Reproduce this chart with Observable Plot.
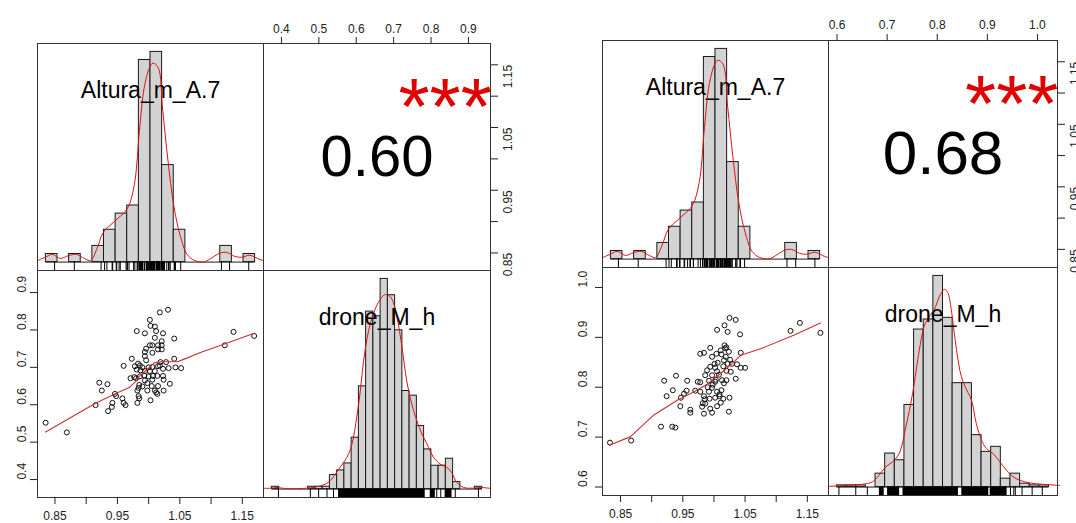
<!DOCTYPE html>
<html><head><meta charset="utf-8">
<script src="https://cdn.jsdelivr.net/npm/d3@7"></script>
<script src="https://cdn.jsdelivr.net/npm/@observablehq/plot@0.6"></script>
<style>
body{margin:0;background:#fff;}
#root{position:relative;width:1076px;height:523px;overflow:hidden;background:#fff;}
#root svg{position:absolute;overflow:visible;}
</style></head><body><div id="root"></div>
<script>
// ---------- labels ----------
const varNames = ["Altura_m_A.7", "drone_M_h"];
const corrTexts = ["0.60", "0.68"];
const signifText = "***";

// ---------- axis ticks ----------
const alturaTicks = [0.85, 0.90, 0.95, 1.00, 1.05, 1.10, 1.15];
const alturaLabelVals = [0.85, 0.95, 1.05, 1.15];
const alturaLabels = ["0.85", "0.95", "1.05", "1.15"];
const droneATicks = [0.4, 0.5, 0.6, 0.7, 0.8, 0.9];
const droneALabels = ["0.4", "0.5", "0.6", "0.7", "0.8", "0.9"];
const droneBTicks = [0.6, 0.7, 0.8, 0.9, 1.0];
const droneBLabels = ["0.6", "0.7", "0.8", "0.9", "1.0"];

// ---------- Altura histogram (both figures) ----------
const alturaBreakStart = 0.82, alturaBinWidth = 0.02;
const alturaCounts = [1,0,1,0,2,4,6,7,25,26,12,4,0,0,0,2,0,1];
const alturaDensX = [0.806,0.819,0.831,0.845,0.859,0.873,0.886,0.897,0.908,0.919,0.939,0.960,0.972,0.981,0.989,0.998,1.004,1.013,1.021,1.030,1.040,1.051,1.063,1.076,1.093,1.107,1.119,1.131,1.145,1.157,1.171,1.184,1.193];
const alturaDensY = [0.2,0.6,0.95,0.45,0.8,0.95,0.45,0.2,1.7,3.7,5.1,6.6,9.5,16.3,21.5,24.0,24.6,24.1,18.8,12.6,7.0,3.3,0.95,0.2,0.05,0.6,1.1,1.2,0.7,0.6,0.85,0.45,0.2];

// ---------- drone histogram, left figure ----------
const droneABreakStart = 0.38, droneABinWidth = 0.02;
const droneACounts = [1,0,0,0,0,1,1,1,6,8,11,22,44,76,74,90,83,68,42,40,27,17,10,10,13,3,0,0,1];
const droneADensX = [0.357,0.380,0.394,0.412,0.449,0.476,0.504,0.527,0.541,0.555,0.568,0.587,0.601,0.614,0.624,0.633,0.647,0.660,0.674,0.688,0.699,0.711,0.725,0.739,0.752,0.766,0.780,0.794,0.808,0.826,0.844,0.863,0.876,0.890,0.909,0.936,0.955,0.983];
const droneADensY = [0.3,0.4,0.7,0.3,0.2,0.4,1.0,2.1,3.6,6.4,9.3,13.6,19.3,30.7,42.1,55,67.9,75,80,82.9,83.3,81.4,73.6,60.7,46.4,36.4,29.3,23.6,19.3,13.6,10.7,9.3,7.1,2.9,0.7,0.4,0.7,0.3];
const droneARugTicks = [0.398,0.486,0.509,0.532,0.550,0.835,0.846,0.886,0.950];
const droneARugBlocks = [[0.564,0.803],[0.817,0.831],[0.858,0.877]];

// ---------- drone histogram, right figure ----------
const droneBBreakStart = 0.60, droneBBinWidth = 0.02;
const droneBCounts = [1,1,1,0,8,20,16,49,94,100,126,101,62,62,31,21,24,5,8,2,1,1];
const droneBDensX = [0.582,0.624,0.652,0.673,0.687,0.701,0.715,0.729,0.743,0.757,0.771,0.781,0.792,0.802,0.813,0.823,0.830,0.837,0.848,0.858,0.869,0.879,0.889,0.900,0.910,0.924,0.938,0.952,0.966,0.980,1.001,1.029,1.062];
const droneBDensY = [0.4,1,1.6,3,7,12,15,20,36,56,82,96,102,106,114,118,116,106,82,66,58,52,38,28,23,20,15,10,6,4,2.4,1.6,1];
const droneBRugTicks = [0.604,0.639,0.663,0.960,0.967,0.970,0.984,1.005,1.026];
const droneBRugBlocks = [[0.688,0.698],[0.705,0.730],[0.737,0.852],[0.859,0.915],[0.918,0.953]];

// ---------- scatter, left figure ----------
const scatterAX = [1.031,1.018,1.002,1.003,1.010,1.012,0.981,0.994,1.023,1.010,1.041,1.021,1.002,1.006,1.015,1.021,0.996,1.015,1.021,0.994,1.006,0.994,0.996,0.973,0.983,0.986,0.978,0.960,1.019,1.028,1.041,1.043,1.052,1.015,1.006,1.023,1.032,0.981,0.987,0.994,1.002,0.986,0.993,1.000,1.007,1.014,1.023,0.971,0.980,0.994,0.998,1.006,1.024,0.934,0.921,0.925,0.985,0.990,1.005,1.015,1.034,0.982,0.998,1.010,1.024,0.946,0.948,0.984,0.985,1.014,0.958,0.963,0.960,0.942,0.941,0.935,0.982,1.003,0.915,0.835,0.869,1.122,1.136,1.169,1.000,0.990,1.010,0.984,1.012,0.977,1.018];
const scatterAY = [0.854,0.847,0.827,0.811,0.809,0.797,0.797,0.791,0.791,0.779,0.777,0.770,0.759,0.759,0.759,0.759,0.750,0.748,0.748,0.741,0.739,0.730,0.719,0.723,0.710,0.705,0.703,0.704,0.714,0.714,0.723,0.700,0.698,0.703,0.701,0.696,0.698,0.694,0.692,0.690,0.690,0.676,0.678,0.676,0.677,0.677,0.677,0.671,0.671,0.665,0.658,0.667,0.667,0.655,0.659,0.638,0.653,0.649,0.650,0.650,0.656,0.638,0.638,0.638,0.638,0.629,0.623,0.623,0.617,0.629,0.617,0.599,0.605,0.605,0.594,0.583,0.605,0.612,0.599,0.552,0.526,0.759,0.795,0.784,0.700,0.700,0.690,0.645,0.633,0.674,0.705];
const loessAX = [0.835,0.915,0.950,0.969,0.979,0.985,0.998,1.009,1.020,1.046,1.054,1.083,1.136,1.169];
const loessAY = [0.527,0.604,0.632,0.646,0.662,0.676,0.695,0.712,0.715,0.715,0.720,0.740,0.771,0.791];

// ---------- scatter, right figure ----------
const scatterBX = [1.025,1.035,1.017,1.005,1.022,1.042,1.017,0.994,0.978,0.984,1.011,1.024,1.004,1.012,0.997,1.019,1.043,1.016,1.001,1.006,0.994,1.002,1.022,1.029,1.037,1.043,0.989,1.005,1.020,1.027,0.986,0.997,1.035,1.013,1.020,0.957,0.974,0.992,1.002,0.920,0.939,0.934,0.956,0.970,0.978,0.992,1.005,1.012,0.997,0.924,0.947,0.984,0.993,1.002,1.009,1.015,1.025,0.986,1.011,0.946,0.962,0.981,0.984,0.994,1.005,0.997,1.024,0.962,0.915,0.933,0.938,0.833,0.867,1.123,1.138,1.171,1.050,0.998,1.003,0.990,1.008,0.985,1.015,1.020,1.018,1.009,0.982,1.016,0.978,1.026,0.952];
const scatterBY = [0.939,0.935,0.924,0.915,0.911,0.906,0.884,0.879,0.867,0.869,0.874,0.871,0.867,0.866,0.861,0.861,0.869,0.854,0.847,0.849,0.841,0.839,0.847,0.847,0.846,0.839,0.834,0.832,0.833,0.831,0.824,0.824,0.817,0.814,0.814,0.813,0.811,0.813,0.811,0.813,0.823,0.794,0.793,0.793,0.791,0.791,0.791,0.794,0.799,0.782,0.779,0.782,0.777,0.779,0.782,0.777,0.779,0.767,0.769,0.762,0.755,0.761,0.747,0.757,0.762,0.749,0.751,0.749,0.721,0.721,0.719,0.689,0.693,0.913,0.929,0.909,0.839,0.805,0.815,0.800,0.825,0.776,0.842,0.880,0.878,0.786,0.768,0.808,0.810,0.855,0.787];
const loessBX = [0.833,0.866,0.903,0.941,0.968,0.989,1.000,1.010,1.026,1.043,1.075,1.128,1.171];
const loessBY = [0.684,0.701,0.744,0.774,0.791,0.806,0.817,0.827,0.844,0.864,0.877,0.904,0.929];

// ---------- pair scale domains ----------
const alturaDomainA = [0.822, 1.184], droneDomainA = [0.352, 0.959];
const alturaDomainB = [0.821, 1.184], droneDomainB = [0.583, 1.040];

// ---------- helpers ----------
const root = document.getElementById("root");
const FONT = "'Liberation Sans', Arial, Helvetica, sans-serif";
const zip = (xs, ys) => xs.map((x, i) => ({x, y: ys[i]}));

function make(box, m, xd, yd, marks) {
  const {ml = 0, mr = 0, mt = 0, mb = 0} = m;
  const svg = Plot.plot({
    width: box.w + ml + mr, height: box.h + mt + mb,
    marginLeft: ml, marginRight: mr, marginTop: mt, marginBottom: mb,
    x: {domain: xd, axis: null, label: null},
    y: {domain: yd, axis: null, label: null},
    style: {background: "transparent", fontFamily: FONT, color: "#222", overflow: "visible"},
    marks
  });
  svg.style.position = "absolute";
  svg.style.left = (box.x - ml) + "px";
  svg.style.top = (box.y - mt) + "px";
  root.appendChild(svg);
}

function histPanel(box, start, bw, counts, dx, dy, rugTicks, rugBlocks, label) {
  const n = counts.length, end = start + n * bw, R = end - start, M = d3.max(counts);
  const bins = counts.map((c, i) => ({x1: start + i * bw, x2: start + (i + 1) * bw, c})).filter(d => d.c > 0);
  make(box, {}, [start - 0.04 * R, end + 0.04 * R], [-0.04 * M, 1.04 * M], [
    Plot.ruleY([0], {x1: start, x2: end, stroke: "#1a1a1a", strokeWidth: 1}),
    Plot.rect(bins, {x1: "x1", x2: "x2", y1: 0, y2: "c", fill: "#d3d3d3", stroke: "#1a1a1a", strokeWidth: 1}),
    Plot.rect(rugBlocks, {x1: d => d[0], x2: d => d[1], y1: -0.04 * M, y2: 0, fill: "#000"}),
    Plot.ruleX(rugTicks, {x: d => d, y1: -0.04 * M, y2: 0, stroke: "#000", strokeWidth: 1}),
    Plot.line(zip(dx, dy), {x: "x", y: "y", stroke: "#e01010", strokeWidth: 1, curve: "catmull-rom"}),
    Plot.text([label], {text: d => d, frameAnchor: "top", dy: 38, fontSize: 23, fill: "#000"}),
    Plot.frame({stroke: "#333", strokeWidth: 1})
  ]);
}

function scatterPanel(box, xd, yd, xs, ys, lx, ly, yTicks, yLabels, leftDx, bottomDy) {
  make(box, {ml: 45, mb: 40}, xd, yd, [
    Plot.dot(zip(xs, ys), {x: "x", y: "y", r: 2.5, stroke: "#111", strokeWidth: 1, fill: "none"}),
    Plot.line(zip(lx, ly), {x: "x", y: "y", stroke: "#c83030", strokeWidth: 1.1}),
    Plot.frame({stroke: "#333", strokeWidth: 1}),
    Plot.axisX(alturaTicks, {anchor: "bottom", tickSize: 7, tickFormat: () => ""}),
    Plot.text(alturaLabelVals, {x: d => d, text: (d, i) => alturaLabels[i], frameAnchor: "bottom", dy: bottomDy, fontSize: 12}),
    Plot.axisY(yTicks, {anchor: "left", tickSize: 7, tickFormat: () => ""}),
    Plot.text(yTicks, {y: d => d, text: (d, i) => yLabels[i], frameAnchor: "left", dx: leftDx, rotate: -90, fontSize: 12})
  ]);
}

function corrPanel(box, xd, yd, txt, fs, xTicks, xLabels, topDy, rightDx) {
  make(box, {mt: 40, mr: 30}, xd, yd, [
    Plot.frame({stroke: "#333", strokeWidth: 1}),
    Plot.text([txt], {text: d => d, frameAnchor: "middle", fontSize: fs, fill: "#000"}),
    Plot.text([signifText], {text: d => d, x: xd[0] + 0.8 * (xd[1] - xd[0]), y: yd[0] + 0.8 * (yd[1] - yd[0]), dy: 19, fontSize: 80, fill: "#e00000"}),
    Plot.axisX(xTicks, {anchor: "top", tickSize: 7, tickFormat: () => ""}),
    Plot.text(xTicks, {x: d => d, text: (d, i) => xLabels[i], frameAnchor: "top", dy: topDy, fontSize: 12}),
    Plot.axisY(alturaTicks, {anchor: "right", tickSize: 7, tickFormat: () => ""}),
    Plot.text(alturaLabelVals, {y: d => d, text: (d, i) => alturaLabels[i], frameAnchor: "right", dx: rightDx, rotate: -90, fontSize: 12})
  ]);
}

// ---------- left figure ----------
histPanel({x: 37, y: 43, w: 226, h: 227}, alturaBreakStart, alturaBinWidth, alturaCounts, alturaDensX, alturaDensY, scatterAX, [], varNames[0]);
corrPanel({x: 263, y: 43, w: 227, h: 227}, droneDomainA, alturaDomainA, corrTexts[0], 58, droneATicks, droneALabels, -19, 18);
scatterPanel({x: 37, y: 270, w: 226, h: 227}, alturaDomainA, droneDomainA, scatterAX, scatterAY, loessAX, loessAY, droneATicks, droneALabels, -15, 22);
histPanel({x: 263, y: 270, w: 227, h: 227}, droneABreakStart, droneABinWidth, droneACounts, droneADensX, droneADensY, droneARugTicks, droneARugBlocks, varNames[1]);

// ---------- right figure ----------
histPanel({x: 602, y: 40, w: 226, h: 227}, alturaBreakStart, alturaBinWidth, alturaCounts, alturaDensX, alturaDensY, scatterBX, [], varNames[0]);
corrPanel({x: 828, y: 40, w: 229, h: 227}, droneDomainB, alturaDomainB, corrTexts[1], 62, droneBTicks, droneBLabels, -20, 18);
scatterPanel({x: 602, y: 267, w: 226, h: 228}, alturaDomainB, droneDomainB, scatterBX, scatterBY, loessBX, loessBY, droneBTicks, droneBLabels, -19, 22);
histPanel({x: 828, y: 267, w: 229, h: 228}, droneBBreakStart, droneBBinWidth, droneBCounts, droneBDensX, droneBDensY, droneBRugTicks, droneBRugBlocks, varNames[1]);
</script></body></html>
